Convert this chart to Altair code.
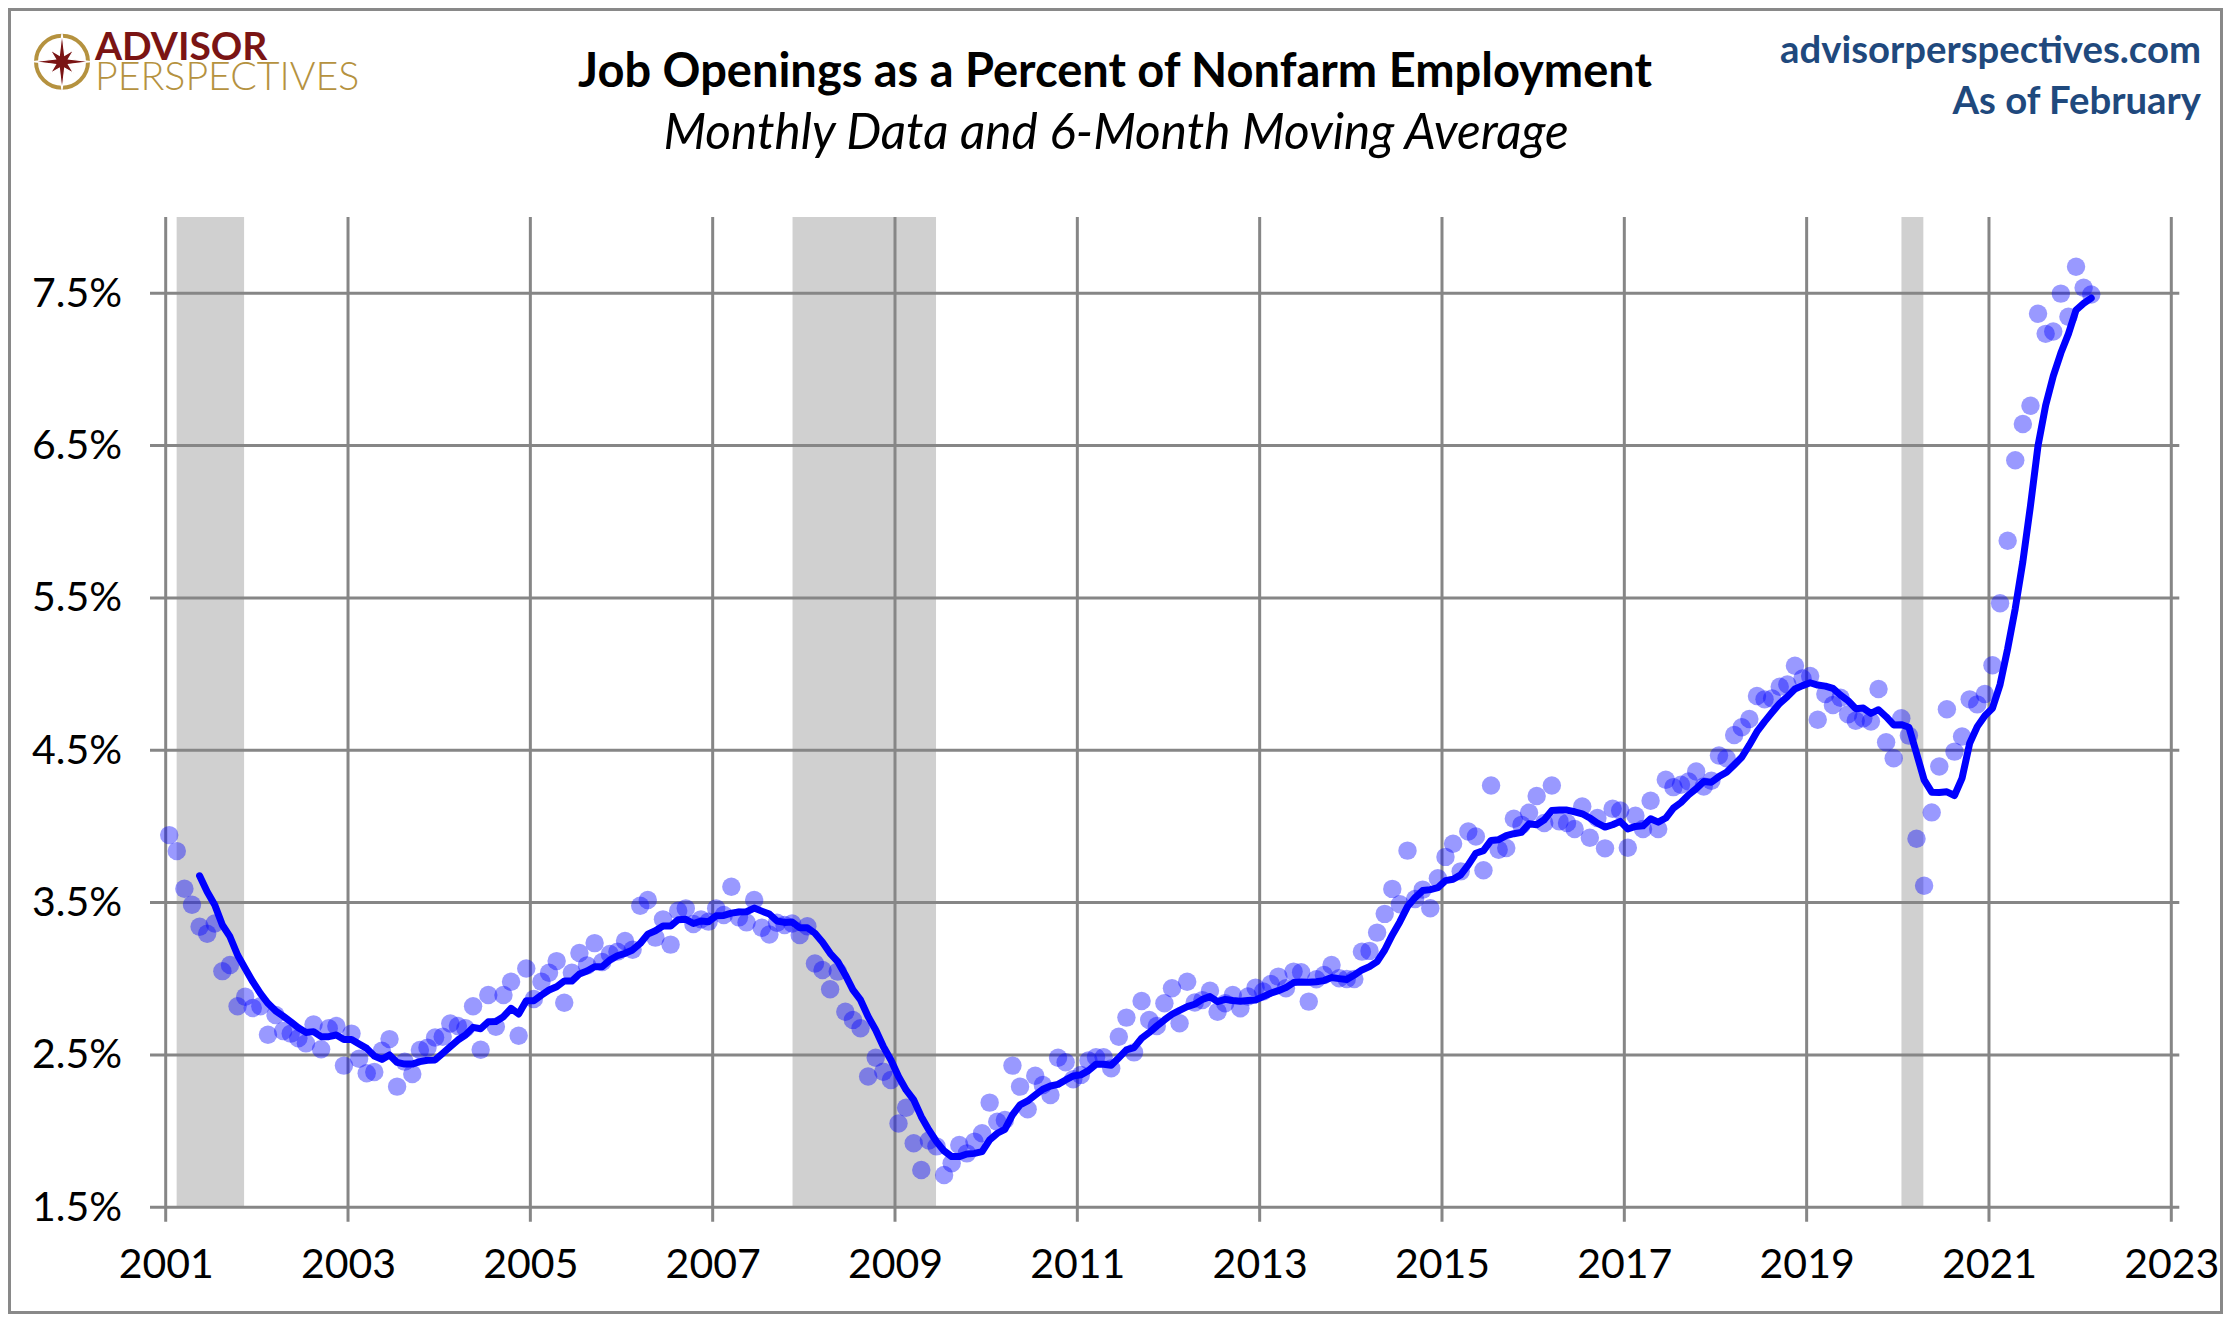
import math

import altair as alt
import pandas as pd

# monthly readings, Jan 2001 to Feb 2022
DOT_VALUES = [
    3.943, 3.838, 3.591, 3.486, 3.342, 3.296, 3.363, 3.05, 3.09, 2.82, 2.882, 2.808,
    2.82, 2.633, 2.762, 2.657, 2.64, 2.61, 2.576, 2.70, 2.537, 2.675, 2.69, 2.43,
    2.64, 2.475, 2.38, 2.388, 2.528, 2.604, 2.292, 2.456, 2.375, 2.532, 2.548, 2.615,
    2.62, 2.707, 2.69, 2.675, 2.82, 2.534, 2.893, 2.685, 2.893, 2.98, 2.626, 3.068,
    2.867, 2.98, 3.04, 3.116, 2.843, 3.04, 3.169, 3.088, 3.234, 3.11, 3.162, 3.178,
    3.248, 3.19, 3.479, 3.517, 3.27, 3.39, 3.224, 3.447, 3.462, 3.36, 3.39, 3.375,
    3.462, 3.418, 3.604, 3.403, 3.37, 3.517, 3.335, 3.291, 3.368, 3.353, 3.363, 3.287,
    3.345, 3.10, 3.058, 2.931, 3.047, 2.784, 2.73, 2.675, 2.358, 2.482, 2.39, 2.336,
    2.05, 2.154, 1.92, 1.745, 1.938, 1.90, 1.712, 1.789, 1.909, 1.854, 1.931, 1.986,
    2.187, 2.062, 2.073, 2.43, 2.292, 2.143, 2.364, 2.303, 2.237, 2.482, 2.452, 2.34,
    2.369, 2.463, 2.485, 2.485, 2.412, 2.62, 2.745, 2.517, 2.854, 2.73, 2.69, 2.839,
    2.938, 2.708, 2.981, 2.844, 2.86, 2.922, 2.784, 2.839, 2.894, 2.806, 2.883, 2.942,
    2.916, 2.966, 3.014, 2.938, 3.047, 3.043, 2.85, 2.997, 3.025, 3.09, 3.003, 2.999,
    2.999, 3.178, 3.183, 3.303, 3.426, 3.59, 3.489, 3.841, 3.524, 3.585, 3.463, 3.66,
    3.80, 3.886, 3.705, 3.967, 3.934, 3.712, 4.269, 3.847, 3.858, 4.05, 4.01, 4.09,
    4.20, 4.022, 4.269, 4.033, 4.022, 3.983, 4.131, 3.926, 4.055, 3.856, 4.116, 4.105,
    3.86, 4.07, 3.983, 4.168, 3.983, 4.306, 4.258, 4.273, 4.295, 4.36, 4.262, 4.30,
    4.465, 4.448, 4.60, 4.651, 4.705, 4.856, 4.834, 4.84, 4.917, 4.932, 5.055, 4.971,
    4.987, 4.70, 4.869, 4.797, 4.845, 4.736, 4.694, 4.71, 4.688, 4.902, 4.552, 4.447,
    4.71, 4.596, 3.919, 3.611, 4.092, 4.393, 4.769, 4.491, 4.59, 4.834, 4.801, 4.869,
    5.058, 5.465, 5.875, 6.403, 6.641, 6.761, 7.365, 7.233, 7.248, 7.497, 7.345, 7.673,
    7.535, 7.491,
]

# moving average as drawn, May 2001 to Feb 2022
MA_START_MONTH = 4
MA_VALUES = [
    3.676, 3.571, 3.484, 3.353, 3.276, 3.156, 3.068, 2.981,
    2.904, 2.839, 2.79, 2.755, 2.718, 2.679, 2.648, 2.653, 2.62, 2.62, 2.631, 2.602,
    2.602, 2.572, 2.543, 2.493, 2.471, 2.50, 2.451, 2.44, 2.44, 2.456, 2.465, 2.467,
    2.51, 2.554, 2.598, 2.631, 2.681, 2.672, 2.718, 2.72, 2.751, 2.806, 2.769, 2.856,
    2.856, 2.893, 2.926, 2.948, 2.985, 2.985, 3.031, 3.051, 3.079, 3.079, 3.123, 3.151,
    3.167, 3.189, 3.232, 3.293, 3.315, 3.346, 3.346, 3.388, 3.39, 3.363, 3.379, 3.375,
    3.414, 3.416, 3.431, 3.438, 3.44, 3.464, 3.444, 3.425, 3.379, 3.37, 3.372, 3.335,
    3.335, 3.299, 3.24, 3.167, 3.113, 3.025, 2.927, 2.861, 2.752, 2.664, 2.555, 2.467,
    2.358, 2.27, 2.205, 2.095, 2.008, 1.931, 1.87, 1.833, 1.833, 1.85, 1.854, 1.865,
    1.942, 1.986, 2.012, 2.106, 2.172, 2.198, 2.237, 2.275, 2.296, 2.307, 2.336, 2.362,
    2.369, 2.397, 2.439, 2.439, 2.432, 2.482, 2.533, 2.548, 2.609, 2.647, 2.69, 2.73,
    2.767, 2.793, 2.817, 2.833, 2.865, 2.883, 2.85, 2.865, 2.857, 2.852, 2.857, 2.861,
    2.883, 2.905, 2.922, 2.942, 2.975, 2.979, 2.977, 2.981, 2.988, 3.008, 3.001, 2.995,
    3.025, 3.058, 3.08, 3.113, 3.189, 3.288, 3.375, 3.474, 3.533, 3.579, 3.585, 3.598,
    3.644, 3.653, 3.682, 3.747, 3.824, 3.841, 3.908, 3.913, 3.939, 3.952, 3.961, 4.017,
    4.011, 4.044, 4.105, 4.107, 4.107, 4.096, 4.083, 4.055, 4.022, 3.996, 4.011, 4.033,
    3.983, 4.00, 4.004, 4.05, 4.028, 4.055, 4.12, 4.157, 4.207, 4.247, 4.295, 4.29,
    4.327, 4.356, 4.404, 4.454, 4.535, 4.622, 4.688, 4.749, 4.808, 4.852, 4.902, 4.924,
    4.943, 4.928, 4.921, 4.906, 4.862, 4.825, 4.773, 4.777, 4.742, 4.766, 4.72, 4.666,
    4.668, 4.651, 4.48, 4.306, 4.225, 4.223, 4.227, 4.203, 4.317, 4.546, 4.655, 4.727,
    4.776, 4.931, 5.166, 5.43, 5.738, 6.104, 6.50, 6.764, 6.955, 7.107, 7.233, 7.389,
    7.433, 7.468,
]

RECESSION_START = [2001.12, 2007.876, 2020.04]
RECESSION_END = [2001.86, 2009.45, 2020.28]
X_TICKS = list(range(2001, 2024, 2))
Y_TICKS = [1.5, 2.5, 3.5, 4.5, 5.5, 6.5, 7.5]

FONT = "Lato"
GRID = "#868686"
BLUE = "#0000ff"
PLOT_W = 2005.6
PLOT_H = 990.3
PAD_LEFT = 157.7
PAD_TOP = 209.0
PAD_RIGHT = 51.7
PAD_BOTTOM = 106.7


def month_x(month):
    return 2001 + (month + 0.46) / 12


def px(x):
    return x - 165.7


def py(y):
    return y - 217.0


def label(text, x, y, size, color="#000000", align="center", weight="normal", style="normal"):
    return (
        alt.Chart(pd.DataFrame({"k": [0]}))
        .mark_text(font=FONT, fontSize=size, color=color, align=align, baseline="alphabetic",
                   fontWeight=weight, fontStyle=style)
        .encode(x=alt.value(px(x)), y=alt.value(py(y)), text=alt.value(text))
    )


def star_path():
    # eight point star for the logo, long arms on the axes
    points = []
    for k in range(16):
        angle = math.pi * k / 8
        radius = 1.0 if k % 4 == 0 else (0.58 if k % 4 == 2 else 0.24)
        points.append(f"{radius * math.sin(angle):.3f},{-radius * math.cos(angle):.3f}")
    return "M" + " L".join(points) + " Z"


x_scale = alt.Scale(domain=[2001, 2023], nice=False, zero=False)
y_scale = alt.Scale(domain=[1.5, 8.0], nice=False, zero=False)
x_axis = alt.Axis(
    values=X_TICKS,
    format="d",
    title=None,
    ticks=False,
    domain=False,
    grid=False,
    labelFont=FONT,
    labelFontSize=41,
    labelColor="#000000",
    labelPadding=38,
    labelFlush=False,
    labelOverlap=False,
)
y_axis = alt.Axis(
    values=Y_TICKS,
    labelExpr="format(datum.value, '.1f') + '%'",
    title=None,
    ticks=False,
    domain=False,
    grid=False,
    labelFont=FONT,
    labelFontSize=41,
    labelColor="#000000",
    labelPadding=44,
    labelOffset=1,
)

dots = pd.DataFrame({"x": [month_x(i) for i in range(len(DOT_VALUES))], "value": DOT_VALUES})
average = pd.DataFrame(
    {"x": [month_x(MA_START_MONTH + i) for i in range(len(MA_VALUES))], "value": MA_VALUES}
)
recessions = pd.DataFrame({"start": RECESSION_START, "end": RECESSION_END})

frame = (
    alt.Chart(pd.DataFrame({"k": [0]}))
    .mark_rect(fillOpacity=0, stroke="#898989", strokeWidth=3)
    .encode(
        x=alt.value(-PAD_LEFT + 1.5),
        x2=alt.value(PLOT_W + PAD_RIGHT - 1.5),
        y=alt.value(-PAD_TOP + 1.5),
        y2=alt.value(PLOT_H + PAD_BOTTOM - 1.5),
    )
)

bands = (
    alt.Chart(recessions)
    .mark_rect(color="#d0d0d0")
    .encode(
        x=alt.X("start:Q", scale=x_scale, axis=x_axis),
        x2="end:Q",
        y=alt.value(0),
        y2=alt.value(PLOT_H),
    )
)

h_rules = (
    alt.Chart(pd.DataFrame({"value": Y_TICKS}))
    .mark_rule(color=GRID, strokeWidth=3)
    .encode(
        x=alt.value(-15.7),
        x2=alt.value(PLOT_W + 8),
        y=alt.Y("value:Q", scale=y_scale, axis=y_axis),
    )
)

v_rules = (
    alt.Chart(pd.DataFrame({"year": X_TICKS}))
    .mark_rule(color=GRID, strokeWidth=3)
    .encode(
        x=alt.X("year:Q", scale=x_scale, axis=x_axis),
        y=alt.value(0),
        y2=alt.value(PLOT_H + 14.4),
    )
)

points = (
    alt.Chart(dots)
    .mark_circle(color=BLUE, opacity=0.4, size=340)
    .encode(
        x=alt.X("x:Q", scale=x_scale, axis=x_axis),
        y=alt.Y("value:Q", scale=y_scale, axis=y_axis),
    )
)

line = (
    alt.Chart(average)
    .mark_line(color=BLUE, strokeWidth=7, strokeCap="round", strokeJoin="round")
    .encode(
        x=alt.X("x:Q", scale=x_scale, axis=x_axis),
        y=alt.Y("value:Q", scale=y_scale, axis=y_axis),
    )
)

ring = (
    alt.Chart(pd.DataFrame({"k": [0]}))
    .mark_point(shape="circle", size=2704, filled=False, stroke="#b5923f", strokeWidth=4, opacity=1)
    .encode(x=alt.value(px(62)), y=alt.value(py(61.7)))
)
star = (
    alt.Chart(pd.DataFrame({"k": [0]}))
    .mark_point(shape=star_path(), size=3364, filled=True, fill="#7a1414", stroke="#ffffff", strokeWidth=1.2, opacity=1)
    .encode(x=alt.value(px(62)), y=alt.value(py(61.7)))
)

chart = (
    alt.layer(
        frame,
        bands,
        h_rules,
        v_rules,
        points,
        line,
        ring,
        star,
        label("ADVISOR", 95, 59.5, 39, color="#7a1414", align="left", weight="bold"),
        label("PERSPECTIVES", 95, 90, 39.3, color="#b5923f", align="left", weight=300),
        label("Job Openings as a Percent of Nonfarm Employment", 1115, 86.5, 47, weight="bold"),
        label("Monthly Data and 6-Month Moving Average", 1116, 148.5, 49.5, style="italic"),
        label("advisorperspectives.com", 2201, 63, 38.3, color="#1f497d", align="right", weight="bold"),
        label("As of February", 2201, 114, 38.3, color="#1f497d", align="right", weight="bold"),
    )
    .properties(
        width=PLOT_W,
        height=PLOT_H,
        autosize=alt.AutoSizeParams(type="none"),
        padding={"left": PAD_LEFT, "top": PAD_TOP, "right": PAD_RIGHT, "bottom": PAD_BOTTOM},
        background="#ffffff",
    )
    .configure_view(stroke=None)
)

chart.save("out.html", embed_options={"renderer": "svg", "actions": False})
